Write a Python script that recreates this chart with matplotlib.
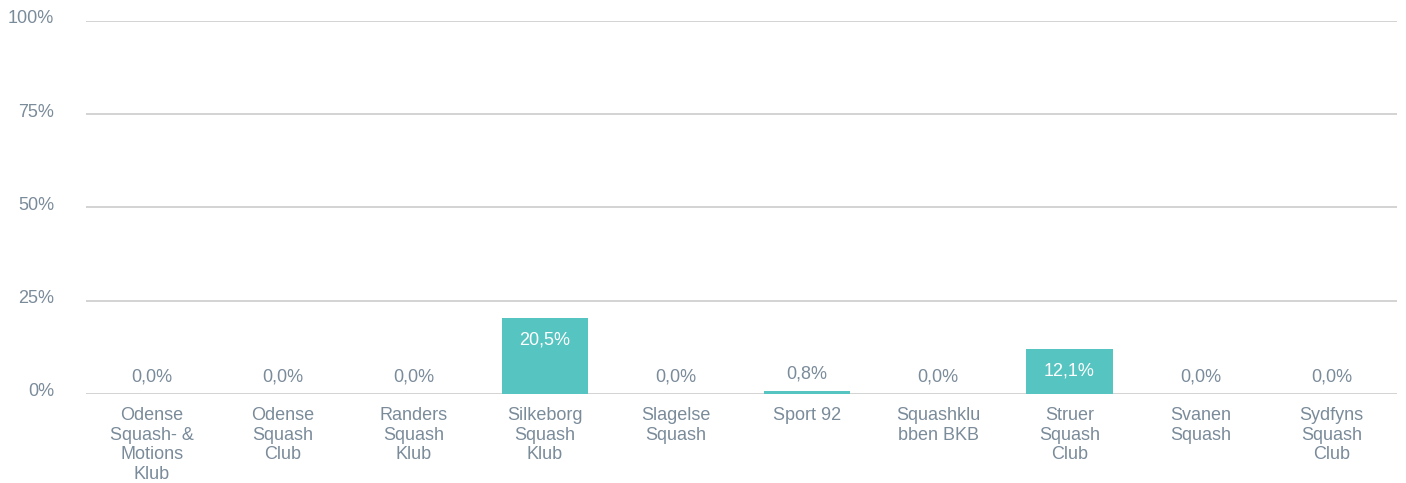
import matplotlib.pyplot as plt
import matplotlib.transforms as mtransforms
from matplotlib.ticker import FuncFormatter

# Data
clubs = [
    "Odense\nSquash- &\nMotions\nKlub",
    "Odense\nSquash\nClub",
    "Randers\nSquash\nKlub",
    "Silkeborg\nSquash\nKlub",
    "Slagelse\nSquash",
    "Sport 92",
    "Squashklu\nbben BKB",
    "Struer\nSquash\nClub",
    "Svanen\nSquash",
    "Sydfyns\nSquash\nClub",
]
shares = [0.0, 0.0, 0.0, 20.5, 0.0, 0.8, 0.0, 12.1, 0.0, 0.0]
y_ticks = [0, 25, 50, 75, 100]

bar_color = "#56C4C0"
text_color = "#7A8B9A"
grid_color = "#D3D3D3"

plt.rcParams['font.family'] = ['Liberation Sans', 'DejaVu Sans']

fig = plt.figure(figsize=(14.06, 4.83), dpi=100)
ax = fig.add_axes([0.0612, 0.1843, 0.9324, 0.7722])

x = range(len(clubs))
bars = ax.bar(x, shares, width=0.66, color=bar_color, zorder=3)

# value labels: inside the bar when tall enough, otherwise above it
for xi, v in zip(x, shares):
    label = f"{v:.1f}%".replace(".", ",")
    if v > 5:
        ax.annotate(label, (xi, v), xytext=(0, -16), textcoords="offset points",
                    ha="center", va="center", color="white", fontsize=13, zorder=4)
    else:
        ax.annotate(label, (xi, v), xytext=(0, 12), textcoords="offset points",
                    ha="center", va="center", color=text_color, fontsize=13, zorder=4)

ax.set_xlim(-0.5, len(clubs) - 0.5)
ax.set_ylim(0, 100)
ax.set_yticks(y_ticks)
ax.yaxis.set_major_formatter(FuncFormatter(lambda v, p: f"{int(v)}%"))
ax.set_xticks(list(x))
ax.set_xticklabels(clubs, linespacing=1.2)

ax.tick_params(axis="y", length=0, pad=23, labelsize=13, labelcolor=text_color)
ax.tick_params(axis="x", length=0, pad=9.5, labelsize=13, labelcolor=text_color)
# y labels sit a little above their gridline in the original
shift_up = mtransforms.ScaledTranslation(0, 3 / 72, fig.dpi_scale_trans)
for lbl in ax.get_yticklabels():
    lbl.set_verticalalignment("center_baseline")
    lbl.set_transform(lbl.get_transform() + shift_up)

ax.grid(axis="y", color=grid_color, linewidth=1.4, zorder=0)
for s in ax.spines.values():
    s.set_visible(False)

fig.savefig("out.png", dpi=100)
